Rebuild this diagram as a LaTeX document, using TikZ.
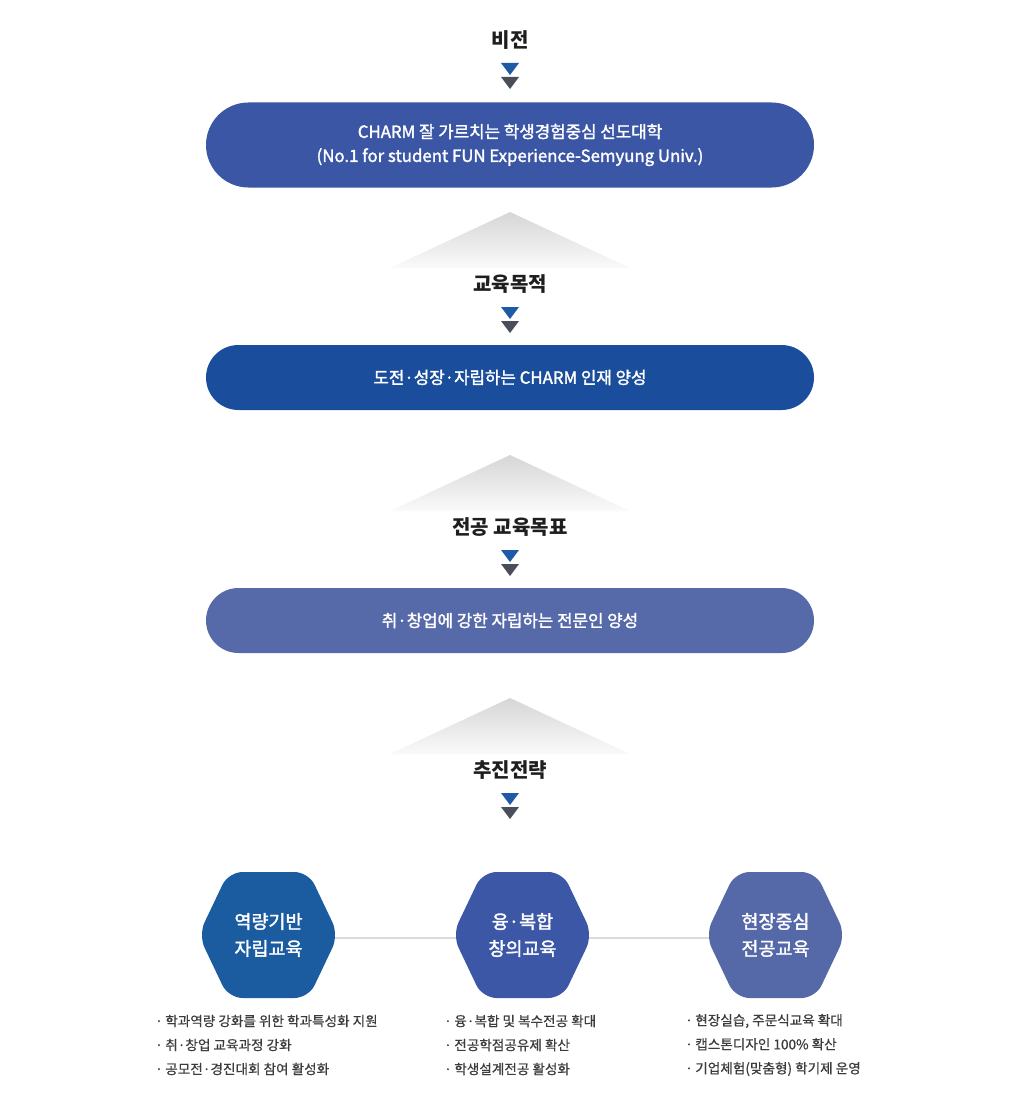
\documentclass[tikz,border=0pt]{standalone}
\usepackage{fontspec}
\setmainfont{Noto Sans CJK KR}
\newfontfamily\medfont[FakeBold=1.8]{Noto Sans CJK KR}
\newfontfamily\semfont[FakeBold=0.6]{Noto Sans CJK KR}
\usetikzlibrary{calc}
\definecolor{pillA}{RGB}{58,86,165}
\definecolor{pillB}{RGB}{26,77,155}
\definecolor{pillC}{RGB}{86,105,169}
\definecolor{hexA}{RGB}{27,92,161}
\definecolor{hexB}{RGB}{60,87,166}
\definecolor{hexC}{RGB}{85,104,168}
\definecolor{arrBlue}{RGB}{31,90,166}
\definecolor{arrGray}{RGB}{74,78,90}
\definecolor{titleC}{RGB}{30,30,30}
\definecolor{bulletC}{RGB}{60,60,60}
\definecolor{connC}{RGB}{218,218,218}
\definecolor{triTop}{RGB}{214,214,214}
\definecolor{triBot}{RGB}{250,250,250}
\tikzset{
  title/.style={font=\fontsize{20}{24}\selectfont\bfseries, text=titleC, inner sep=0},
  pill/.style={rounded corners=32.5pt, minimum width=608pt, minimum height=65pt, inner sep=0,
     text=white, align=center, font=\medfont\fontsize{16.8}{24}\selectfont},
  pilltall/.style={pill, rounded corners=42.5pt, minimum height=85pt},
  hextext/.style={text=white, align=center, font=\medfont\fontsize{18.5}{27}\selectfont, inner sep=0},
  bullets/.style={anchor=west, align=left, text=bulletC, font=\semfont\fontsize{13.6}{24}\selectfont, inner sep=0},
  conn/.style={draw=connC, line width=2pt},
}
\newcommand{\dblarrow}[1]{%
  \fill[arrBlue] ($(#1)+(-9,23)$) -- ($(#1)+(9,23)$) -- ($(#1)+(0,35)$) -- cycle;
  \fill[arrGray] ($(#1)+(-9,37)$) -- ($(#1)+(9,37)$) -- ($(#1)+(0,49)$) -- cycle;}
\newcommand{\grayroof}[1]{%
  \shade[top color=triTop, bottom color=triBot] ($(#1)+(0,-72)$) -- ($(#1)+(120,-16)$) -- ($(#1)+(-120,-16)$) -- cycle;}
\newcommand{\hexshape}[2]{%
  \fill[#2, rounded corners=14pt] ($(#1)+(-70,0)$) -- ($(#1)+(-40,-63)$) -- ($(#1)+(40,-63)$) -- ($(#1)+(70,0)$) -- ($(#1)+(40,63)$) -- ($(#1)+(-40,63)$) -- cycle;}
\newcommand{\bdot}{·\hspace{2.5pt}}
\begin{document}
\begin{tikzpicture}[x=1pt,y=-1pt]
\useasboundingbox (0,0) rectangle (1021,1105);
% vision
\node[title] (t1) at (510,40) {비전};
\dblarrow{t1}
\node[pilltall, fill=pillA] (p1) at (510,145) {CHARM 잘 가르치는 학생경험중심 선도대학\\(No.1 for student FUN Experience-Semyung Univ.)};
% purpose
\coordinate (t2c) at (510,284);
\grayroof{t2c}
\node[title] (t2) at (t2c) {교육목적};
\dblarrow{t2}
\node[pill, fill=pillB] (p2) at (510,377.5) {도전·성장·자립하는 CHARM 인재 양성};
% major goal
\coordinate (t3c) at (510,527);
\grayroof{t3c}
\node[title] (t3) at (t3c) {전공 교육목표};
\dblarrow{t3}
\node[pill, fill=pillC] (p3) at (510,620.5) {취·창업에 강한 자립하는 전문인 양성};
% strategy
\coordinate (t4c) at (510,770);
\grayroof{t4c}
\node[title] (t4) at (t4c) {추진전략};
\dblarrow{t4}
% hexagons
\coordinate (h1) at (268.5,935);
\coordinate (h2) at (522.5,935);
\coordinate (h3) at (775.5,935);
\draw[conn] ([yshift=-3pt]h1) -- ([yshift=-3pt]h2);
\draw[conn] ([yshift=-3pt]h2) -- ([yshift=-3pt]h3);
\hexshape{h1}{hexA}
\hexshape{h2}{hexB}
\hexshape{h3}{hexC}
\node[hextext] (h1t) at (h1) {역량기반\\자립교육};
\node[hextext] (h2t) at (h2) {융·복합\\창의교육};
\node[hextext] (h3t) at (h3) {현장중심\\전공교육};
% bullet lists
\node[bullets] (b1) at (155,1045) {\bdot 학과역량 강화를 위한 학과특성화 지원\\\bdot 취·창업 교육과정 강화\\\bdot 공모전·경진대회 참여 활성화};
\node[bullets] (b2) at (444,1045) {\bdot 융·복합 및 복수전공 확대\\\bdot 전공학점공유제 확산\\\bdot 학생설계전공 활성화};
\node[bullets] (b3) at (685,1045) {\bdot 현장실습, 주문식교육 확대\\\bdot 캡스톤디자인 100\% 확산\\\bdot 기업체험(맞춤형) 학기제 운영};
\end{tikzpicture}
\end{document}
